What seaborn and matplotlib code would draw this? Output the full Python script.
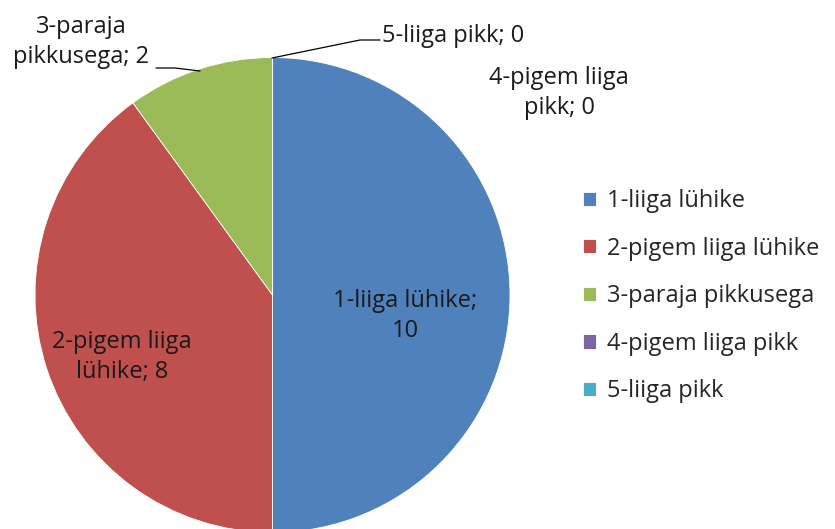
import numpy as np
import matplotlib.pyplot as plt
import seaborn as sns

sns.set_style('white')
plt.rcParams['font.family'] = ['Open Sans', 'DejaVu Sans']

CATEGORIES = ['1-liiga lühike', '2-pigem liiga lühike', '3-paraja pikkusega',
              '4-pigem liiga pikk', '5-liiga pikk']
VALUES = [10, 8, 2, 0, 0]
LABELS = ['1-liiga lühike;\n10', '2-pigem liiga\nlühike; 8', '3-paraja\npikkusega; 2',
          '4-pigem liiga\npikk; 0', '5-liiga pikk; 0']
COLORS = ['#4F81BD', '#C0504D', '#9BBB59', '#8064A2', '#4BACC6']

W, H = 835, 529
fig = plt.figure(figsize=(W / 100, H / 100), dpi=100)
R = 237.5
cx, cy = 272.5, 295
ax = fig.add_axes([(cx - R) / W, (H - cy - R) / H, 2 * R / W, 2 * R / H])

wedges, _ = ax.pie(VALUES, colors=COLORS, startangle=90, counterclock=False,
                   radius=1, wedgeprops=dict(edgecolor='white', linewidth=0.6))
ax.set_xlim(-1, 1)
ax.set_ylim(-1, 1)


def px(x, y):
    # pixel position -> pie data coordinates
    return (x - cx) / R, (cy - y) / R


fs = 17
txt = dict(fontsize=fs, color='#1a1a1a', linespacing=1.35, clip_on=False)
ax.text(*px(405, 316), LABELS[0], ha='center', va='center', **txt)
ax.text(*px(122, 357), LABELS[1], ha='center', va='center', **txt)
ax.text(*px(81, 42), LABELS[2], ha='center', va='center', **txt)
ax.text(*px(559, 93), LABELS[3], ha='center', va='center', **txt)
ax.text(*px(382, 36), LABELS[4], ha='left', va='center', **txt)

# leader lines
for pts in ([(156, 68), (175, 68), (200, 71)], [(272, 58), (360, 40), (380, 40)]):
    xs, ys = zip(*[px(*p) for p in pts])
    ax.plot(xs, ys, color='black', lw=0.9, clip_on=False)

fig.legend(wedges, CATEGORIES, loc='upper left',
           bbox_to_anchor=(583 / W, 1 - 189 / H), frameon=False,
           fontsize=fs, handlelength=0.55, handleheight=0.55, handletextpad=0.45,
           labelspacing=1.0, borderaxespad=0, borderpad=0)

fig.savefig('out.png', dpi=100, facecolor='white')
